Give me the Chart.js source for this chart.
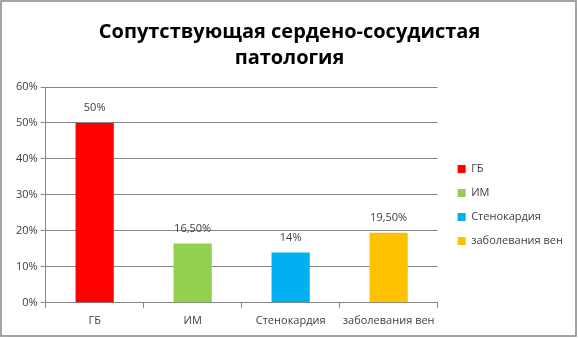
<!DOCTYPE html>
<html lang="ru">
<head>
  <meta charset="UTF-8">
  <title>Сопутствующая патология</title>
  <script src="https://cdn.jsdelivr.net/npm/chart.js"></script>
  <style>
    body { margin: 0; background: #fff; }
    #wrap { width: 578px; height: 338px; }
  </style>
</head>
<body>
  <div id="wrap"><canvas id="chart" width="578" height="338"></canvas></div>

  <script>
    const categories = ["ГБ", "ИМ", "Стенокардия", "заболевания вен"];
    const values = [50, 16.5, 14, 19.5];
    const valueLabels = ["50%", "16,50%", "14%", "19,50%"];
    const colors = ["#FF0000", "#92D050", "#00B0F0", "#FFC000"];
    const yTicks = [0, 10, 20, 30, 40, 50, 60];

    const FONT = "'Open Sans', sans-serif";
    const TEXT = "#404040";
    const GRID = "#868686";

    // frame around the whole chart
    const framePlugin = {
      id: "frame",
      beforeDraw(chart) {
        const ctx = chart.ctx;
        ctx.save();
        ctx.fillStyle = "#fff";
        ctx.fillRect(0, 0, chart.width, chart.height);
        ctx.strokeStyle = "#868686";
        ctx.lineWidth = 1.5;
        ctx.strokeRect(1, 1, chart.width - 3, chart.height - 3);
        ctx.restore();
      }
    };

    // move the legend a bit right / down, like the original
    const legendNudge = {
      id: "legendNudge",
      afterLayout(chart) {
        const lg = chart.legend;
        lg.left += 7; lg.right += 7;
        lg.top += 10; lg.bottom += 10;
      }
    };

    // value labels above bars
    const valueLabelPlugin = {
      id: "valueLabels",
      afterDatasetsDraw(chart) {
        const ctx = chart.ctx;
        const meta = chart.getDatasetMeta(0);
        ctx.save();
        ctx.font = "11px " + FONT;
        ctx.fillStyle = TEXT;
        ctx.textAlign = "center";
        ctx.textBaseline = "middle";
        meta.data.forEach((bar, i) => {
          ctx.fillText(valueLabels[i], bar.x, bar.y - 15);
        });
        ctx.restore();
      }
    };

    new Chart(document.getElementById("chart"), {
      type: "bar",
      data: {
        labels: categories,
        datasets: [{
          data: values,
          backgroundColor: colors,
          barPercentage: 0.39,
          categoryPercentage: 1
        }]
      },
      options: {
        responsive: false,
        animation: false,
        layout: { padding: { left: 13, right: 12, bottom: 5, top: 0 } },
        plugins: {
          title: {
            display: true,
            text: ["Сопутствующая сердено-сосудистая", "патология"],
            color: "#000",
            font: { family: FONT, size: 20, weight: "bold", lineHeight: 1.3 },
            padding: { top: 19, bottom: 16 }
          },
          legend: {
            position: "right",
            fullSize: false,
            labels: {
              boxWidth: 8,
              boxHeight: 8,
              padding: 13,
              color: TEXT,
              font: { family: FONT, size: 11 },
              generateLabels() {
                return categories.map((c, i) => ({
                  text: c,
                  fillStyle: colors[i],
                  strokeStyle: colors[i],
                  lineWidth: 0,
                  fontColor: TEXT,
                  index: i
                }));
              }
            }
          },
          tooltip: { enabled: false }
        },
        scales: {
          x: {
            offset: true,
            grid: {
              offset: true,
              drawOnChartArea: false,
              drawTicks: true,
              tickLength: 5,
              color: GRID
            },
            border: { color: GRID },
            ticks: {
              color: TEXT,
              font: { family: FONT, size: 11 },
              padding: 6,
              maxRotation: 0,
              autoSkip: false
            }
          },
          y: {
            min: 0,
            max: 60,
            afterBuildTicks(axis) {
              axis.ticks = yTicks.map(v => ({ value: v }));
            },
            grid: {
              color: GRID,
              tickLength: 5
            },
            border: { color: GRID },
            ticks: {
              color: TEXT,
              font: { family: FONT, size: 11 },
              padding: 3,
              callback: v => v + "%"
            }
          }
        }
      },
      plugins: [framePlugin, legendNudge, valueLabelPlugin]
    });
  </script>
</body>
</html>
